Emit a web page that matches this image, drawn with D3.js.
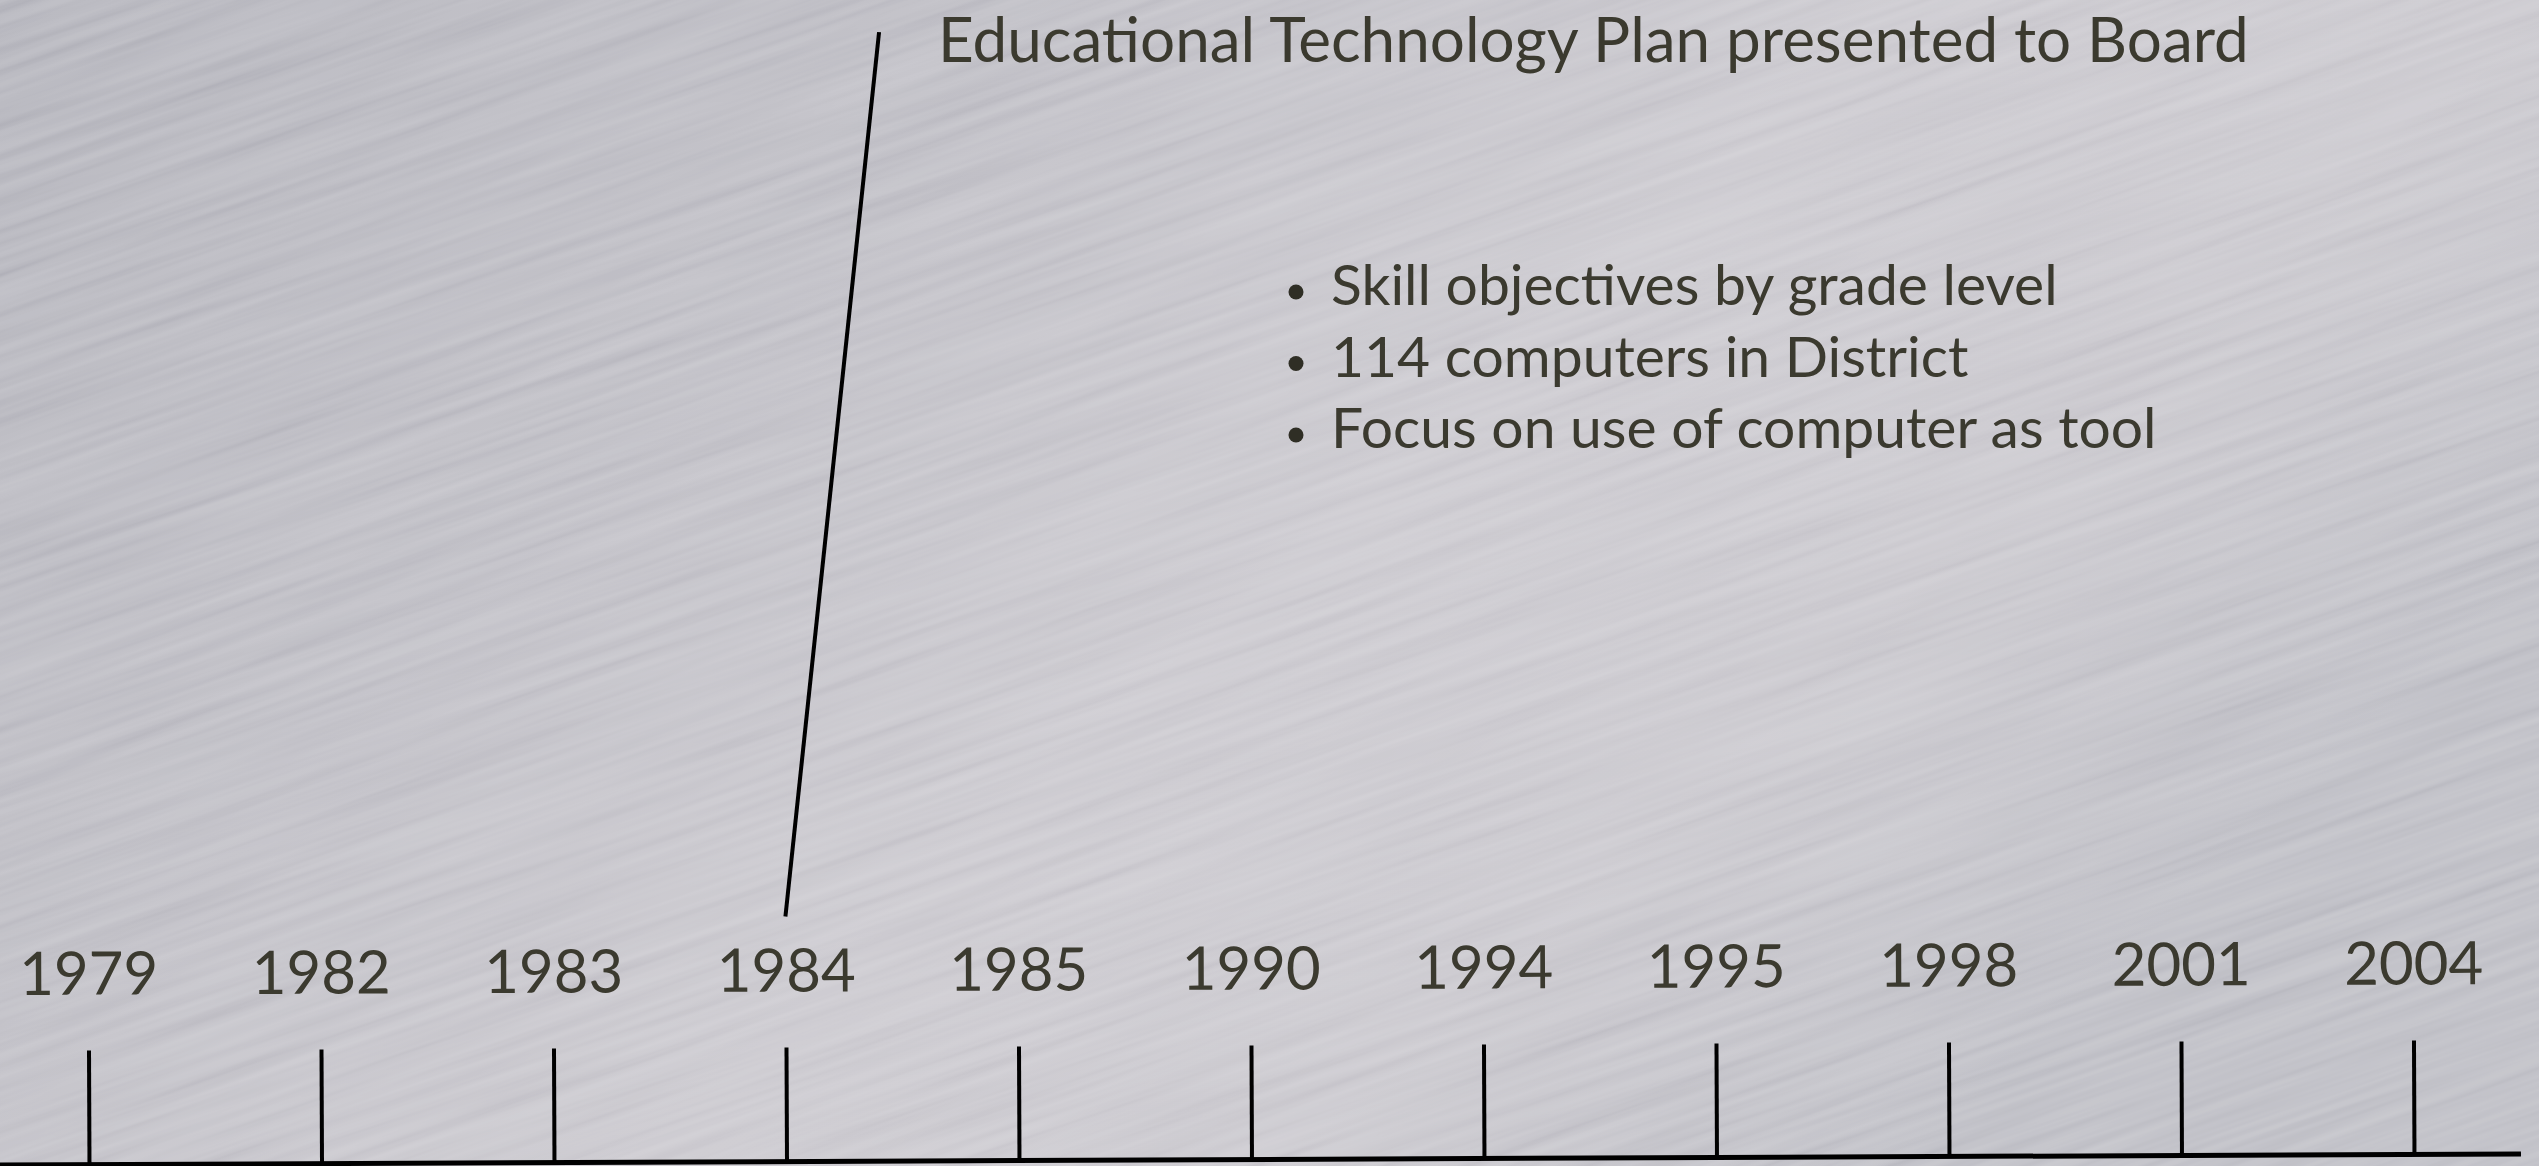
<!DOCTYPE html>
<html>
<head>
<meta charset="utf-8">
<script src="https://cdn.jsdelivr.net/npm/d3@7"></script>
<style>
  html, body { margin: 0; padding: 0; overflow: hidden; background: #c2c1c8; }
  text { font-family: Lato, "Open Sans", sans-serif; fill: #3b3a2f; }
</style>
</head>
<body>
<div id="chart"></div>
<script>
// timeline data
var years = [1979, 1982, 1983, 1984, 1985, 1990, 1994, 1995, 1998, 2001, 2004];
var eventYear = 1984;
var eventTitle = "Educational Technology Plan presented to Board";
var eventPoints = [
  "Skill objectives by grade level",
  "114 computers in District",
  "Focus on use of computer as tool"
];

var width = 2539, height = 1166;

var svg = d3.select("#chart").append("svg")
  .attr("width", width)
  .attr("height", height);

var defs = svg.append("defs");

// brushed metal background
var grad = defs.append("linearGradient")
  .attr("id", "metal")
  .attr("x1", 0).attr("y1", 0)
  .attr("x2", 1).attr("y2", 0.5);
[[0, "#b2b2ba"], [0.35, "#bebdc4"], [0.6, "#cac8ce"], [0.8, "#c9c7cd"], [1, "#bdbdc4"]]
  .forEach(function(s) {
    grad.append("stop").attr("offset", s[0]).attr("stop-color", s[1]);
  });

var brush = defs.append("filter")
  .attr("id", "brush")
  .attr("x", 0).attr("y", 0).attr("width", 1).attr("height", 1);
brush.append("feTurbulence")
  .attr("type", "fractalNoise")
  .attr("baseFrequency", "0.003 0.1")
  .attr("numOctaves", 3)
  .attr("seed", 11)
  .attr("result", "noise");
brush.append("feColorMatrix")
  .attr("in", "noise")
  .attr("type", "matrix")
  .attr("values", "1 0 0 0 0  1 0 0 0 0  1 0 0 0 0  0 0 0 0 1");

svg.append("rect")
  .attr("width", width)
  .attr("height", height)
  .attr("fill", "url(#metal)");

svg.append("g")
  .attr("transform", "translate(" + width / 2 + "," + height / 2 + ") rotate(-19)")
  .append("rect")
  .attr("x", -1700).attr("y", -1300)
  .attr("width", 3400).attr("height", 2600)
  .attr("filter", "url(#brush)")
  .style("mix-blend-mode", "overlay")
  .style("opacity", 0.22);

// timeline axis
var axisLen = 2521;
var x = d3.scalePoint()
  .domain(years)
  .range([89, 2414]);

var tl = svg.append("g")
  .attr("class", "timeline")
  .attr("transform", "translate(0,1165) rotate(-0.25)");

tl.append("line")
  .attr("x1", 0)
  .attr("x2", axisLen)
  .attr("stroke", "#000")
  .attr("stroke-width", 5);

tl.call(d3.axisTop(x)
    .tickSize(114)
    .tickSizeOuter(0)
    .tickPadding(56)
    .tickFormat(function(d) { return d; }));

tl.select(".domain").remove();

tl.selectAll(".tick line")
  .attr("stroke", "#000")
  .attr("stroke-width", 4);

tl.selectAll(".tick text")
  .style("font-size", "60px")
  .style("fill", "#3b3a2f")
  .style("font-family", "Lato, 'Open Sans', sans-serif");

// event callout
var titleX = 938, titleY = 62;

tl.append("line")
  .attr("x1", x(eventYear))
  .attr("y1", -245)
  .attr("x2", titleX - 54)
  .attr("y2", 36 - 1165)
  .attr("stroke", "#000")
  .attr("stroke-width", 4);

svg.append("text")
  .attr("x", titleX)
  .attr("y", titleY)
  .style("font-size", "62px")
  .text(eventTitle);

var bullets = svg.append("g")
  .attr("transform", "translate(1289,305)");

var rows = bullets.selectAll("g")
  .data(eventPoints)
  .enter().append("g")
  .attr("transform", function(d, i) { return "translate(0," + i * 71.5 + ")"; });

rows.append("circle")
  .attr("cx", 7)
  .attr("cy", -13)
  .attr("r", 7.5)
  .attr("fill", "#2f2e25");

rows.append("text")
  .attr("x", 42)
  .attr("y", 0)
  .style("font-size", "57px")
  .text(function(d) { return d; });
</script>
</body>
</html>
